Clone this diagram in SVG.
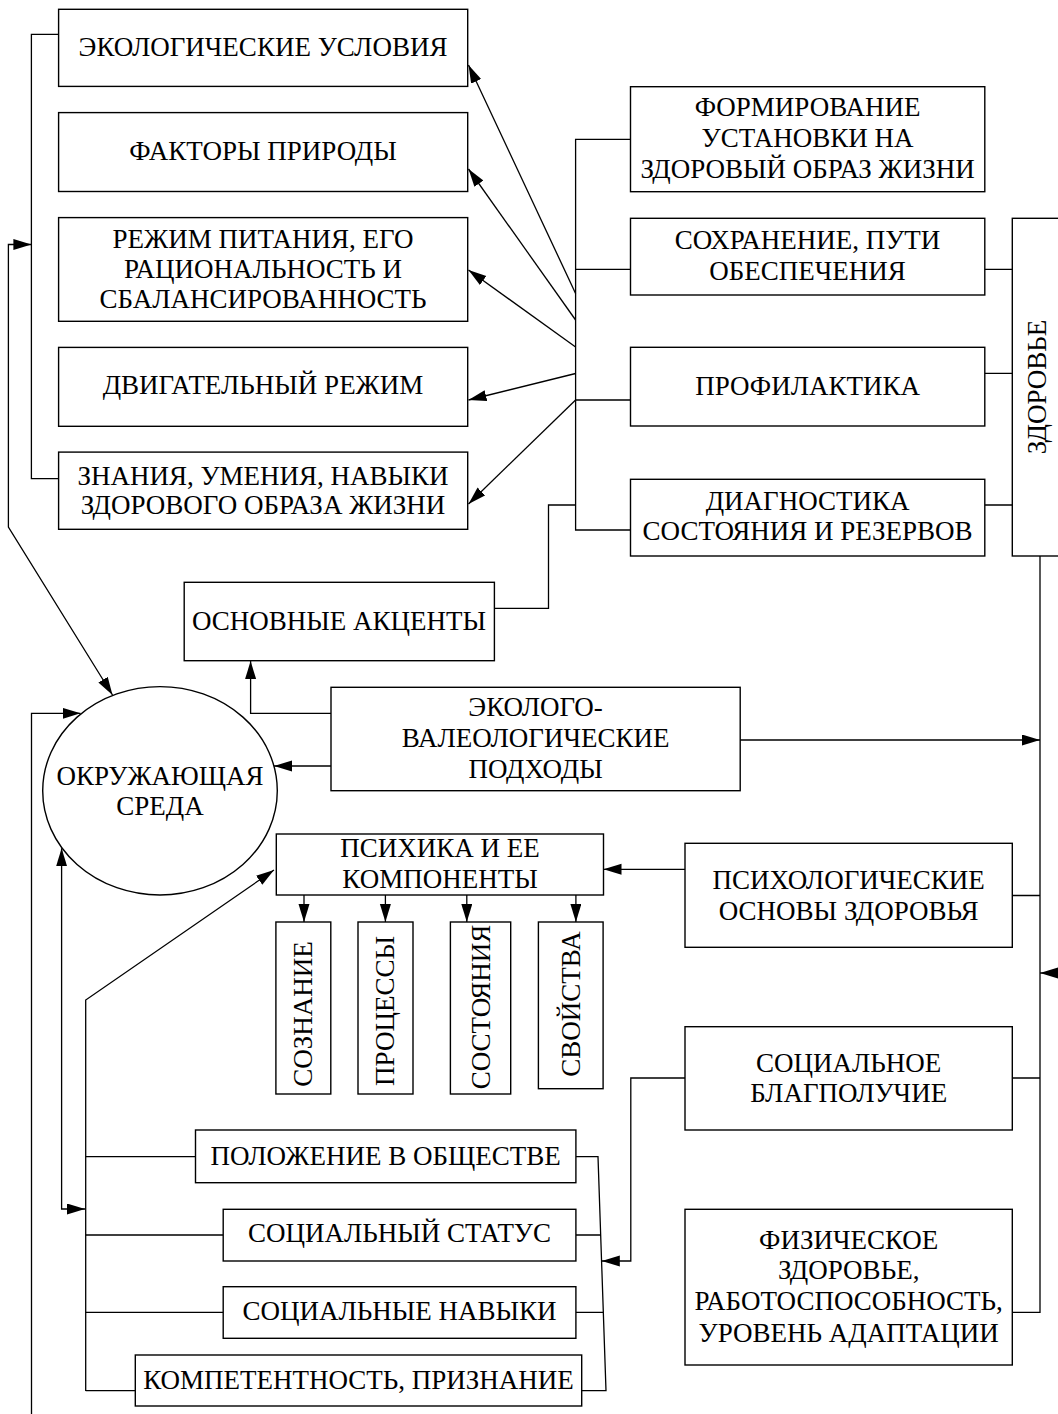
<svg xmlns="http://www.w3.org/2000/svg" width="1058" height="1414" viewBox="0 0 1058 1414">
<defs>
<marker id="ah" markerUnits="userSpaceOnUse" markerWidth="20" markerHeight="12" refX="18" refY="5.5" orient="auto-start-reverse">
<path d="M0,0 L18,5.5 L0,11 z" fill="#000"/>
</marker>
<style>
.b{fill:#fff;stroke:#000;stroke-width:1.4}
.c{fill:none;stroke:#000;stroke-width:1.3}
.a{marker-end:url(#ah)}
.s{marker-start:url(#ah)}
text{font-family:"Liberation Serif","Times New Roman",serif;font-size:27px;fill:#000;text-anchor:middle}
</style>
</defs>
<rect width="1058" height="1414" fill="#fff"/>

<g id="connectors">
<path class="c" d="M58.6,34.4 H31.4 V478.6 H58.6"/>
<path class="c s a" d="M31.4,244.5 H8.4 V527 L112.5,695"/>
<path class="c a" d="M575.6,293.5 L468.5,65"/>
<path class="c a" d="M575.6,320 L468.5,169"/>
<path class="c a" d="M575.6,347 L468.5,270"/>
<path class="c a" d="M575.6,373.5 L468.5,400"/>
<path class="c a" d="M575.6,400 L468.5,504"/>
<path class="c" d="M630.5,139.3 H575.6 V530 H630.5 M575.6,269.3 H630.5 M575.6,400 H630.5"/>
<path class="c" d="M494.4,608.3 H548.5 V505 H575.6"/>
<path class="c" d="M984.8,269.3 H1012.3 M984.8,373.3 H1012.3 M984.8,505 H1012.3"/>
<path class="c" d="M1040,556 V1312.3 H1012.3 M1012.3,895.5 H1040 M1012.3,1078 H1040"/>
<path class="c a" d="M740,740 H1040"/>
<path class="c a" d="M1060,973 H1040"/>
<path class="c a" d="M331,713.3 H250.6 V661"/>
<path class="c a" d="M331,766 H274"/>
<path class="c a" d="M31.5,1414 V713.3 H80.5"/>
<path class="c a" d="M685,869.3 H603.5"/>
<path class="c a" d="M304,895 V922"/>
<path class="c a" d="M385.4,895 V922"/>
<path class="c a" d="M466.8,895 V922"/>
<path class="c a" d="M575.9,895 V922"/>
<path class="c a" d="M85.7,1391 V1000 L274,870"/>
<path class="c" d="M85.7,1156.7 H195.5 M85.7,1235 H223.2 M85.7,1312.3 H223.2 M85.7,1390.7 H135.3"/>
<path class="c s a" d="M85,1209 H61.6 V848.3"/>
<path class="c" d="M575.9,1156.7 H598 L606,1390.7 H581.7 M575.9,1235 H600.7 M575.9,1312.3 H603.3"/>
<path class="c a" d="M685,1078 H630.8 V1261 H601.8"/>
</g>

<g id="n-ekol-usl"><rect class="b" x="58.6" y="9.3" width="409.1" height="77.1"/><text x="263" y="56">ЭКОЛОГИЧЕСКИЕ УСЛОВИЯ</text></g>
<g id="n-faktory"><rect class="b" x="58.6" y="112.6" width="409.1" height="78.9"/><text x="263" y="160">ФАКТОРЫ ПРИРОДЫ</text></g>
<g id="n-rezhim-pit"><rect class="b" x="58.6" y="217.6" width="409.1" height="103.7"/><text x="263" y="248">РЕЖИМ ПИТАНИЯ, ЕГО</text><text x="263" y="278">РАЦИОНАЛЬНОСТЬ И</text><text x="263" y="308">СБАЛАНСИРОВАННОСТЬ</text></g>
<g id="n-dvig"><rect class="b" x="58.6" y="347.4" width="409.1" height="78.9"/><text x="263" y="394">ДВИГАТЕЛЬНЫЙ РЕЖИМ</text></g>
<g id="n-znaniya"><rect class="b" x="58.6" y="452.1" width="409.1" height="77.2"/><text x="263" y="485">ЗНАНИЯ, УМЕНИЯ, НАВЫКИ</text><text x="263" y="514">ЗДОРОВОГО ОБРАЗА ЖИЗНИ</text></g>

<g id="n-form"><rect class="b" x="630.5" y="86.7" width="354.3" height="105"/><text x="807.6" y="116">ФОРМИРОВАНИЕ</text><text x="807.6" y="147">УСТАНОВКИ НА</text><text x="807.6" y="178">ЗДОРОВЫЙ ОБРАЗ ЖИЗНИ</text></g>
<g id="n-sohr"><rect class="b" x="630.5" y="218.3" width="354.3" height="76.7"/><text x="807.6" y="248.5">СОХРАНЕНИЕ, ПУТИ</text><text x="807.6" y="280">ОБЕСПЕЧЕНИЯ</text></g>
<g id="n-prof"><rect class="b" x="630.5" y="347.3" width="354.3" height="78.7"/><text x="807.6" y="395">ПРОФИЛАКТИКА</text></g>
<g id="n-diag"><rect class="b" x="630.5" y="479.3" width="354.3" height="76.7"/><text x="807.6" y="510">ДИАГНОСТИКА</text><text x="807.6" y="540">СОСТОЯНИЯ И РЕЗЕРВОВ</text></g>
<g id="n-zdorovie"><rect class="b" x="1012.3" y="218.3" width="60" height="337.7"/><text transform="translate(1046,387) rotate(-90)" x="0" y="0">ЗДОРОВЬЕ</text></g>

<g id="n-osn-akc"><rect class="b" x="184.2" y="582.3" width="310.2" height="78.4"/><text x="339" y="630">ОСНОВНЫЕ АКЦЕНТЫ</text></g>
<g id="n-ekol-val"><rect class="b" x="331" y="687.3" width="409.2" height="103.4"/><text x="535.6" y="716">ЭКОЛОГО-</text><text x="535.6" y="747">ВАЛЕОЛОГИЧЕСКИЕ</text><text x="535.6" y="778">ПОДХОДЫ</text></g>
<g id="n-sreda"><ellipse class="b" cx="160" cy="790.8" rx="117.3" ry="104.2"/><text x="160" y="785">ОКРУЖАЮЩАЯ</text><text x="160" y="815">СРЕДА</text></g>

<g id="n-psihika"><rect class="b" x="276.3" y="834" width="327.2" height="61"/><text x="440" y="857">ПСИХИКА И ЕЕ</text><text x="440" y="888">КОМПОНЕНТЫ</text></g>
<g id="n-psiholog"><rect class="b" x="685" y="843.3" width="327.3" height="104"/><text x="848.7" y="888.5">ПСИХОЛОГИЧЕСКИЕ</text><text x="848.7" y="919.5">ОСНОВЫ ЗДОРОВЬЯ</text></g>

<g id="n-soznanie"><rect class="b" x="275.9" y="922" width="54.9" height="172"/><text transform="translate(312,1014) rotate(-90)">СОЗНАНИЕ</text></g>
<g id="n-processy"><rect class="b" x="358" y="922" width="55" height="172"/><text transform="translate(394,1011) rotate(-90)">ПРОЦЕССЫ</text></g>
<g id="n-sostoyaniya"><rect class="b" x="450.4" y="922" width="60.3" height="172"/><text transform="translate(489.5,1007) rotate(-90)">СОСТОЯНИЯ</text></g>
<g id="n-svoystva"><rect class="b" x="538.4" y="922" width="64.7" height="166.7"/><text transform="translate(579.5,1004) rotate(-90)">СВОЙСТВА</text></g>

<g id="n-soc-blag"><rect class="b" x="685" y="1026.7" width="327.3" height="103.3"/><text x="848.7" y="1072">СОЦИАЛЬНОЕ</text><text x="848.7" y="1102">БЛАГПОЛУЧИЕ</text></g>
<g id="n-fiz"><rect class="b" x="685" y="1209.3" width="327.3" height="155.7"/><text x="848.7" y="1248.5">ФИЗИЧЕСКОЕ</text><text x="848.7" y="1279">ЗДОРОВЬЕ,</text><text x="848.7" y="1310">РАБОТОСПОСОБНОСТЬ,</text><text x="848.7" y="1341.5">УРОВЕНЬ АДАПТАЦИИ</text></g>

<g id="n-polozh"><rect class="b" x="195.5" y="1130" width="380.4" height="52.7"/><text x="385.7" y="1165">ПОЛОЖЕНИЕ В ОБЩЕСТВЕ</text></g>
<g id="n-status"><rect class="b" x="223.2" y="1209.3" width="352.7" height="51.7"/><text x="399.5" y="1242">СОЦИАЛЬНЫЙ СТАТУС</text></g>
<g id="n-navyki"><rect class="b" x="223.2" y="1286.7" width="352.7" height="51.6"/><text x="399.5" y="1319.5">СОЦИАЛЬНЫЕ НАВЫКИ</text></g>
<g id="n-kompet"><rect class="b" x="135.3" y="1355" width="446.4" height="51"/><text x="358.5" y="1388.5">КОМПЕТЕНТНОСТЬ, ПРИЗНАНИЕ</text></g>
</svg>
